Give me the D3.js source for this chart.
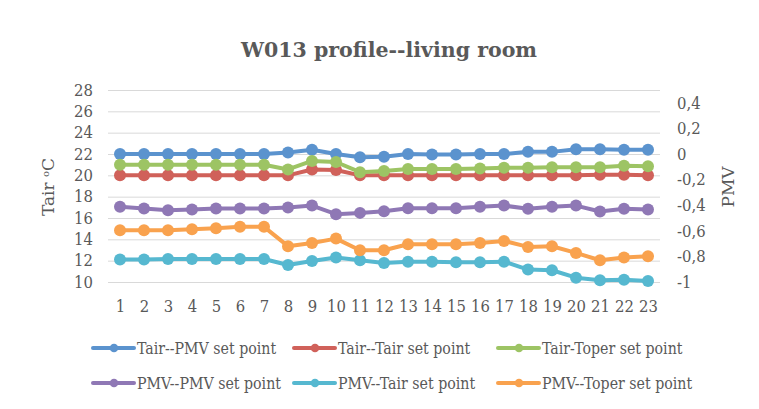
<!DOCTYPE html>
<html>
<head>
<meta charset="utf-8">
<script src="https://cdn.jsdelivr.net/npm/d3@7"></script>
<style>
  html, body { margin: 0; padding: 0; background: #fff; }
  svg { display: block; }
</style>
</head>
<body>
<svg id="chart" width="759" height="409"></svg>
<script>
// Hours on the x axis
const hours = d3.range(1, 24);

// Air temperature series (left axis, °C)
const tairPmvSet   = [22.0, 22.0, 22.0, 22.0, 22.0, 22.0, 22.0, 22.15, 22.4, 22.0, 21.7, 21.75, 22.0, 21.95, 21.95, 22.0, 22.0, 22.2, 22.2, 22.45, 22.45, 22.4, 22.4];
const tairTairSet  = [20.0, 20.0, 20.0, 20.0, 20.0, 20.0, 20.0, 20.0, 20.55, 20.5, 20.0, 20.0, 20.0, 20.0, 20.0, 20.0, 20.0, 20.0, 20.0, 20.0, 20.05, 20.05, 20.0];
const tairToperSet = [21.0, 21.0, 21.0, 21.0, 21.0, 21.0, 21.0, 20.55, 21.35, 21.25, 20.3, 20.4, 20.6, 20.6, 20.6, 20.65, 20.7, 20.7, 20.75, 20.75, 20.75, 20.9, 20.85];

// PMV series (right axis)
const pmvPmvSet   = [-0.413, -0.426, -0.439, -0.434, -0.426, -0.426, -0.426, -0.418, -0.403, -0.47, -0.46, -0.447, -0.423, -0.423, -0.423, -0.413, -0.403, -0.428, -0.413, -0.403, -0.449, -0.428, -0.434];
const pmvTairSet  = [-0.825, -0.825, -0.82, -0.82, -0.82, -0.82, -0.82, -0.867, -0.836, -0.809, -0.83, -0.851, -0.841, -0.841, -0.846, -0.846, -0.841, -0.903, -0.908, -0.966, -0.987, -0.982, -0.992];
const pmvToperSet = [-0.596, -0.596, -0.596, -0.587, -0.58, -0.569, -0.569, -0.72, -0.695, -0.661, -0.752, -0.752, -0.705, -0.705, -0.705, -0.695, -0.679, -0.726, -0.721, -0.773, -0.83, -0.809, -0.799];

// Tick values
const leftTicks  = d3.range(10, 29, 2);
const rightTicks = [-1, -0.8, -0.6, -0.4, -0.2, 0, 0.2, 0.4];

const seriesNames = [
  "Tair--PMV set point", "Tair--Tair set point", "Tair-Toper set point",
  "PMV--PMV set point", "PMV--Tair set point", "PMV--Toper set point"
];
const seriesColors = ["#5B93CE", "#D0615A", "#9DC464", "#8F78B5", "#56B8D0", "#F9A24E"];

const series = [
  { name: seriesNames[0], values: tairPmvSet,   axis: "left",  color: seriesColors[0] },
  { name: seriesNames[1], values: tairTairSet,  axis: "left",  color: seriesColors[1] },
  { name: seriesNames[2], values: tairToperSet, axis: "left",  color: seriesColors[2] },
  { name: seriesNames[3], values: pmvPmvSet,    axis: "right", color: seriesColors[3] },
  { name: seriesNames[4], values: pmvTairSet,   axis: "right", color: seriesColors[4] },
  { name: seriesNames[5], values: pmvToperSet,  axis: "right", color: seriesColors[5] }
];

const FONT = "'DejaVu Serif', serif";
const FONT_NARROW = "'DejaVu Serif Condensed', 'DejaVu Serif', serif";
const TEXT = "#595959";

const svg = d3.select("#chart");
const plot = { left: 108, right: 660, top: 90, bottom: 282 };

const x = d3.scalePoint().domain(hours).range([plot.left, plot.right]).padding(0.5);
const yL = d3.scaleLinear().domain([10, 28]).range([plot.bottom, plot.top]);
const yR = d3.scaleLinear().domain([-1, 0.5]).range([plot.bottom, plot.top]);

// Title
svg.append("text")
  .attr("x", 389).attr("y", 57)
  .attr("text-anchor", "middle")
  .attr("font-family", FONT).attr("font-weight", "bold")
  .attr("font-size", 20.5).attr("fill", TEXT)
  .text("W013 profile--living room");

// Horizontal gridlines
svg.append("g")
  .selectAll("line").data(leftTicks).join("line")
  .attr("x1", plot.left).attr("x2", plot.right)
  .attr("y1", d => yL(d) + 0.5).attr("y2", d => yL(d) + 0.5)
  .attr("stroke", "#D9D9D9").attr("stroke-width", 1);

// Left axis
const leftAxis = d3.axisLeft(yL).tickValues(leftTicks).tickSize(0).tickPadding(0);
svg.append("g")
  .attr("transform", `translate(93,0)`)
  .call(leftAxis)
  .call(g => g.select(".domain").remove())
  .selectAll("text")
  .attr("font-family", FONT_NARROW).attr("font-size", 16.5).attr("fill", TEXT);

// Right axis
const fmtComma = d => (Math.round(d * 10) / 10).toString().replace(".", ",");
const rightAxis = d3.axisRight(yR).tickValues(rightTicks).tickSize(0).tickPadding(0).tickFormat(fmtComma);
svg.append("g")
  .attr("transform", `translate(677,0)`)
  .call(rightAxis)
  .call(g => g.select(".domain").remove())
  .selectAll("text")
  .attr("font-family", FONT_NARROW).attr("font-size", 16.5).attr("fill", TEXT);

// Bottom axis labels
const bottomAxis = d3.axisBottom(x).tickSize(0).tickPadding(0);
svg.append("g")
  .attr("transform", `translate(0,${plot.bottom + 18})`)
  .call(bottomAxis)
  .call(g => g.select(".domain").remove())
  .selectAll("text")
  .attr("font-family", FONT_NARROW).attr("font-size", 16.5).attr("fill", TEXT);

// Axis titles
svg.append("text")
  .attr("transform", "translate(54,187) rotate(-90)")
  .attr("text-anchor", "middle")
  .attr("font-family", FONT).attr("font-size", 17).attr("fill", TEXT)
  .html("Tair <tspan baseline-shift='super' font-size='10'>o</tspan>C");
svg.append("text")
  .attr("transform", "translate(734,187) rotate(-90)")
  .attr("text-anchor", "middle")
  .attr("font-family", FONT).attr("font-size", 17).attr("fill", TEXT)
  .text("PMV");

// Series lines and markers
const gSeries = svg.append("g");
series.forEach(s => {
  const y = s.axis === "left" ? yL : yR;
  const line = d3.line().x((d, i) => x(hours[i])).y(d => y(d));
  gSeries.append("path")
    .datum(s.values)
    .attr("d", line)
    .attr("fill", "none")
    .attr("stroke", s.color)
    .attr("stroke-width", 4)
    .attr("stroke-linejoin", "round");
  gSeries.append("g")
    .selectAll("circle").data(s.values).join("circle")
    .attr("cx", (d, i) => x(hours[i]))
    .attr("cy", d => y(d))
    .attr("r", 6)
    .attr("fill", s.color);
});

// Legend: three columns, two rows
const legendCols = [92, 293, 497];
const legendRows = [348, 383];
const legend = svg.append("g");
series.forEach((s, i) => {
  const lx = legendCols[i % 3];
  const ly = legendRows[Math.floor(i / 3)];
  const item = legend.append("g").attr("transform", `translate(${lx},${ly})`);
  item.append("line")
    .attr("x1", 1).attr("x2", 42).attr("y1", 0).attr("y2", 0)
    .attr("stroke", s.color).attr("stroke-width", 4).attr("stroke-linecap", "round");
  item.append("circle").attr("cx", 22).attr("cy", 0).attr("r", 4.3).attr("fill", s.color);
  item.append("text")
    .attr("x", 45).attr("y", 0).attr("dy", "0.35em")
    .attr("font-family", FONT_NARROW).attr("font-size", 15.75).attr("fill", TEXT)
    .text(s.name);
});
</script>
</body>
</html>
